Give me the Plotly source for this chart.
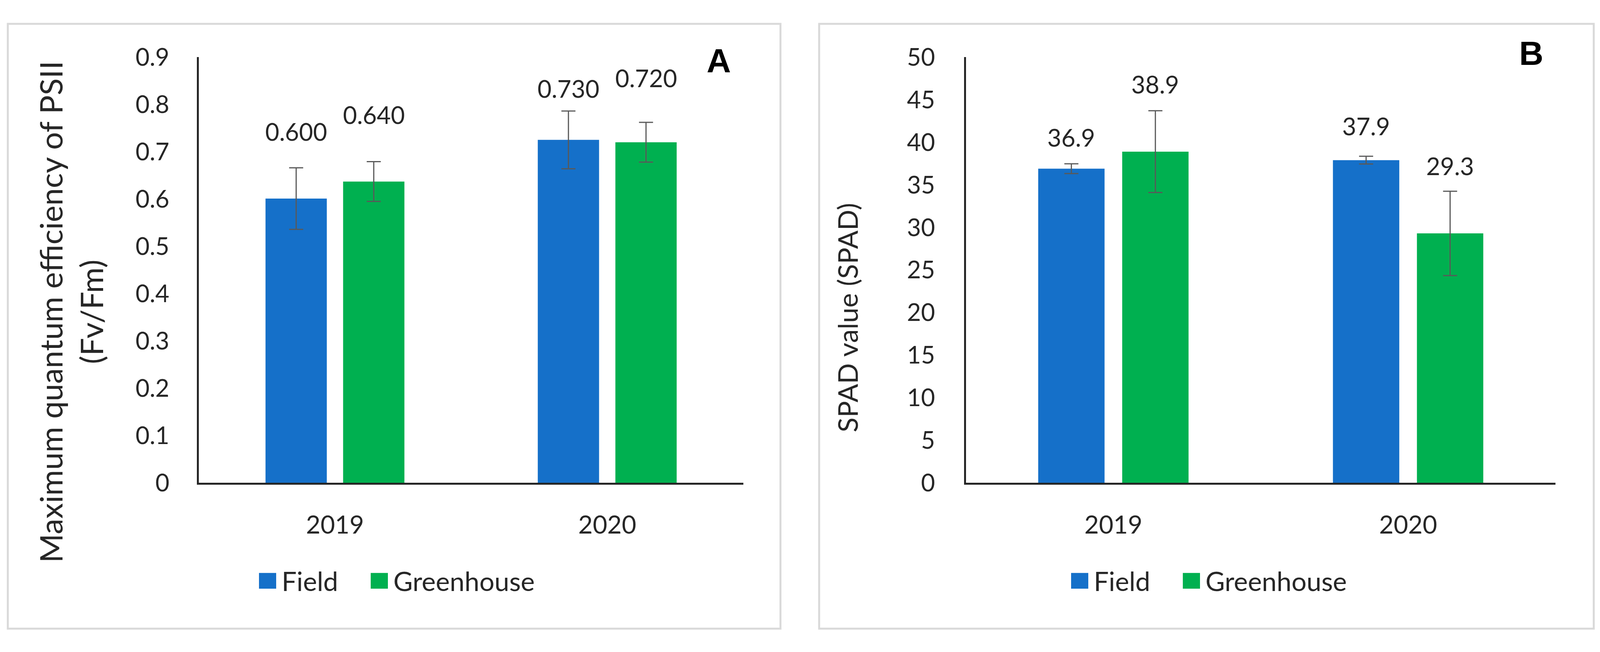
import plotly.graph_objects as go
from plotly.subplots import make_subplots

# ---------------- data ----------------
years = ["2019", "2020"]
series = ["Field", "Greenhouse"]

fvfm_field = [0.601, 0.725]
fvfm_greenhouse = [0.637, 0.720]
fvfm_field_err = [0.065, 0.061]
fvfm_greenhouse_err = [0.042, 0.042]
fvfm_field_labels = ["0.600", "0.730"]
fvfm_greenhouse_labels = ["0.640", "0.720"]

spad_field = [36.9, 37.9]
spad_greenhouse = [38.9, 29.3]
spad_field_err = [0.57, 0.45]
spad_greenhouse_err = [4.8, 4.95]
spad_field_labels = ["36.9", "37.9"]
spad_greenhouse_labels = ["38.9", "29.3"]

ytitle_a = "Maximum quantum efficiency of PSII<br>(Fv/Fm)"
ytitle_b = "SPAD value (SPAD)"
panel_letters = ["A", "B"]

# ---------------- style ----------------
W, H = 4107, 1668
BLUE = "#1570C9"
GREEN = "#00B050"
ERR = "#595959"
TXT = "#262626"
FONT = "Lato, Carlito, Calibri, sans-serif"


def PX(x):
    return x / W


def PY(y):
    return 1 - y / H


fig = make_subplots(rows=1, cols=2)


def add_bars(col, field, green, ferr, gerr):
    fig.add_trace(go.Bar(x=years, y=field, name=series[0], marker_color=BLUE,
                         marker_line_width=0,
                         error_y=dict(type="data", array=ferr, color=ERR, thickness=3, width=18),
                         showlegend=False), row=1, col=col)
    fig.add_trace(go.Bar(x=years, y=green, name=series[1], marker_color=GREEN,
                         marker_line_width=0,
                         error_y=dict(type="data", array=gerr, color=ERR, thickness=3, width=18),
                         showlegend=False), row=1, col=col)


add_bars(1, fvfm_field, fvfm_greenhouse, fvfm_field_err, fvfm_greenhouse_err)
add_bars(2, spad_field, spad_greenhouse, spad_field_err, spad_greenhouse_err)

ydom = [PY(1252), PY(112)]
axis_common = dict(showgrid=False, zeroline=False, showline=True, linecolor=TXT, linewidth=5)
fig.update_layout(
    width=W, height=H, margin=dict(l=0, r=0, t=0, b=0),
    paper_bgcolor="white", plot_bgcolor="white",
    bargap=0.43, bargroupgap=0.21, barmode="group",
    font=dict(family=FONT, color=TXT, size=62),
    xaxis=dict(domain=[PX(509), PX(1903)], ticks="outside", ticklen=48,
               tickcolor="rgba(0,0,0,0)", tickfont=dict(size=64), **axis_common),
    xaxis2=dict(domain=[PX(2473), PX(3982)], ticks="outside", ticklen=48,
                tickcolor="rgba(0,0,0,0)", tickfont=dict(size=64), **axis_common),
    yaxis=dict(domain=ydom, range=[0, 0.9], dtick=0.1, ticks="outside", ticklen=58,
               tickcolor="rgba(0,0,0,0)", tickfont=dict(size=62), **axis_common),
    yaxis2=dict(domain=ydom, range=[0, 50], dtick=5, ticks="outside", ticklen=62,
                tickcolor="rgba(0,0,0,0)", tickfont=dict(size=62), **axis_common),
)

# panel frames
for x0, x1 in [(20, 1998), (2097, 4080)]:
    fig.add_shape(type="rect", xref="paper", yref="paper",
                  x0=PX(x0), x1=PX(x1), y0=PY(1642), y1=PY(23),
                  line=dict(color="#D9D9D9", width=5), fillcolor="rgba(0,0,0,0)", layer="below")

# data labels (positioned above bars, Excel-style manual placement)
off = (1 - 0.43) / 4
label_shift_a = [[172, 132], [171, 165]]
label_shift_b = [[80, 88], [173, 173]]


def add_labels(xref, yref, vals_list, labels_list, shifts):
    for s, (vals, labels) in enumerate(zip(vals_list, labels_list)):
        for i, (v, t) in enumerate(zip(vals, labels)):
            fig.add_annotation(x=i + (-off if s == 0 else off), y=v, xref=xref, yref=yref,
                               text=t, showarrow=False, xanchor="center", yanchor="middle",
                               yshift=shifts[s][i], font=dict(size=62, color=TXT))


add_labels("x", "y", [fvfm_field, fvfm_greenhouse], [fvfm_field_labels, fvfm_greenhouse_labels], label_shift_a)
add_labels("x2", "y2", [spad_field, spad_greenhouse], [spad_field_labels, spad_greenhouse_labels], label_shift_b)

# axis titles
fig.add_annotation(x=PX(181), y=PY(794), xref="paper", yref="paper", text=ytitle_a,
                   textangle=-90, showarrow=False, xanchor="center", yanchor="middle",
                   font=dict(size=80, color=TXT))
fig.add_annotation(x=PX(2169), y=PY(810), xref="paper", yref="paper", text=ytitle_b,
                   textangle=-90, showarrow=False, xanchor="center", yanchor="middle",
                   font=dict(size=70, color=TXT))

# panel letters
for (cx, cy), letter in zip([(1840, 121), (3920, 101)], panel_letters):
    fig.add_annotation(x=PX(cx), y=PY(cy), xref="paper", yref="paper", text="<b>%s</b>" % letter,
                       showarrow=False, xanchor="center", yanchor="middle",
                       font=dict(size=86, color="black", family="Liberation Sans, Arial, sans-serif"))

# legends (drawn manually so the swatches match the reference size)
for cx in [1009, 3088]:
    ly = 1514
    items = [(-346, BLUE, series[0]), (-60, GREEN, series[1])]
    for dx, col, name in items:
        x0 = cx + dx
        fig.add_shape(type="rect", xref="paper", yref="paper",
                      x0=PX(x0), x1=PX(x0 + 44), y0=PY(ly + 21), y1=PY(ly - 21),
                      line=dict(width=0), fillcolor=col)
        fig.add_annotation(x=PX(x0 + 56), y=PY(ly), xref="paper", yref="paper", text=name,
                           xanchor="left", yanchor="middle", showarrow=False,
                           font=dict(size=68, color=TXT))

fig.write_html("out.html", config={"displayModeBar": False},
               post_script="document.body.style.margin='0';document.body.style.overflow='hidden';")
